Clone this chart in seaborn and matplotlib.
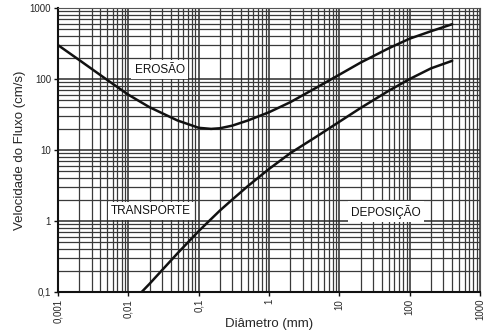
import matplotlib
matplotlib.use("Agg")
import matplotlib.pyplot as plt
import matplotlib.ticker as mticker
import numpy as np
import pandas as pd
import seaborn as sns

# Hjulström-type curves: grain diameter (mm) vs flow velocity (cm/s)
erosion_d = [0.001, 0.002, 0.005, 0.01, 0.02, 0.05, 0.1, 0.15, 0.2, 0.3, 0.5,
             1, 2, 5, 10, 20, 50, 100, 200, 400]
erosion_v = [300, 185, 97, 60, 40, 26, 20.5, 19.8, 20.2, 22, 26,
             34, 47, 78, 115, 170, 270, 370, 470, 590]

deposition_d = [0.0155, 0.02, 0.05, 0.1, 0.2, 0.3, 0.5, 1, 2, 5,
                10, 20, 50, 100, 200, 400]
deposition_v = [0.1, 0.13, 0.35, 0.72, 1.4, 2.0, 3.1, 5.4, 9.0, 16,
                25, 39, 68, 100, 141, 180]

x_ticks = [0.001, 0.01, 0.1, 1, 10, 100, 1000]
x_ticklabels = ["0,001", "0,01", "0,1", "1", "10", "100", "1000"]
y_ticks = [0.1, 1, 10, 100, 1000]
y_ticklabels = ["0,1", "1", "10", "100", "1000"]

regions = ["EROSÃO", "TRANSPORTE", "DEPOSIÇÃO"]
region_d = [0.028, 0.021, 46]
region_v = [134, 1.38, 1.35]

sns.set_theme(style="white")
plt.rcParams["font.family"] = ["Liberation Sans", "DejaVu Sans"]

curves = pd.concat([
    pd.DataFrame({"d": erosion_d, "v": erosion_v, "curve": "erosion"}),
    pd.DataFrame({"d": deposition_d, "v": deposition_v, "curve": "deposition"}),
])

fig = plt.figure(figsize=(4.87, 3.31), dpi=100)
ax = fig.add_axes([0.119, 0.118, 0.867, 0.858])

ax.set_xscale("log")
ax.set_yscale("log")
ax.set_xlim(0.001, 1000)
ax.set_ylim(0.1, 1000)

ax.xaxis.set_minor_locator(mticker.LogLocator(base=10, subs=np.arange(2, 10)))
ax.yaxis.set_minor_locator(mticker.LogLocator(base=10, subs=np.arange(2, 10)))
ax.grid(which="major", color="#2a2a2a", linewidth=1.1)
ax.grid(which="minor", color="#3a3a3a", linewidth=0.9)
ax.set_axisbelow(True)

sns.lineplot(data=curves, x="d", y="v", units="curve", estimator=None,
             color="#111111", linewidth=1.8, ax=ax, legend=False, sort=False)
for line in ax.get_lines():
    line.set_solid_joinstyle("round")
    line.set_solid_capstyle("round")

for name, d, v in zip(regions, region_d, region_v):
    ax.text(d, v, name, ha="center", va="center", fontsize=8.5, color="#111111",
            bbox=dict(facecolor="white", edgecolor="none", pad=2.5))

ax.set_xticks(x_ticks)
ax.set_xticklabels(x_ticklabels, rotation=90, fontsize=7)
ax.set_yticks(y_ticks)
ax.set_yticklabels(y_ticklabels, fontsize=7)
ax.tick_params(axis="both", which="major", length=3, width=1, color="#111111",
               direction="out", pad=2, bottom=True, left=True)
ax.tick_params(axis="both", which="minor", length=0)

for side in ["left", "bottom"]:
    ax.spines[side].set_color("#111111")
    ax.spines[side].set_linewidth(1.5)
for side in ["top", "right"]:
    ax.spines[side].set_color("#555555")
    ax.spines[side].set_linewidth(0.8)

ax.set_xlabel("Diâmetro (mm)", fontsize=9.5, va="center")
ax.xaxis.set_label_coords(0.5, -0.113)
ax.set_ylabel("Velocidade do Fluxo (cm/s)", fontsize=9.5, va="center")
ax.yaxis.set_label_coords(-0.090, 0.5)

fig.savefig("out.png", dpi=100, facecolor="white")
